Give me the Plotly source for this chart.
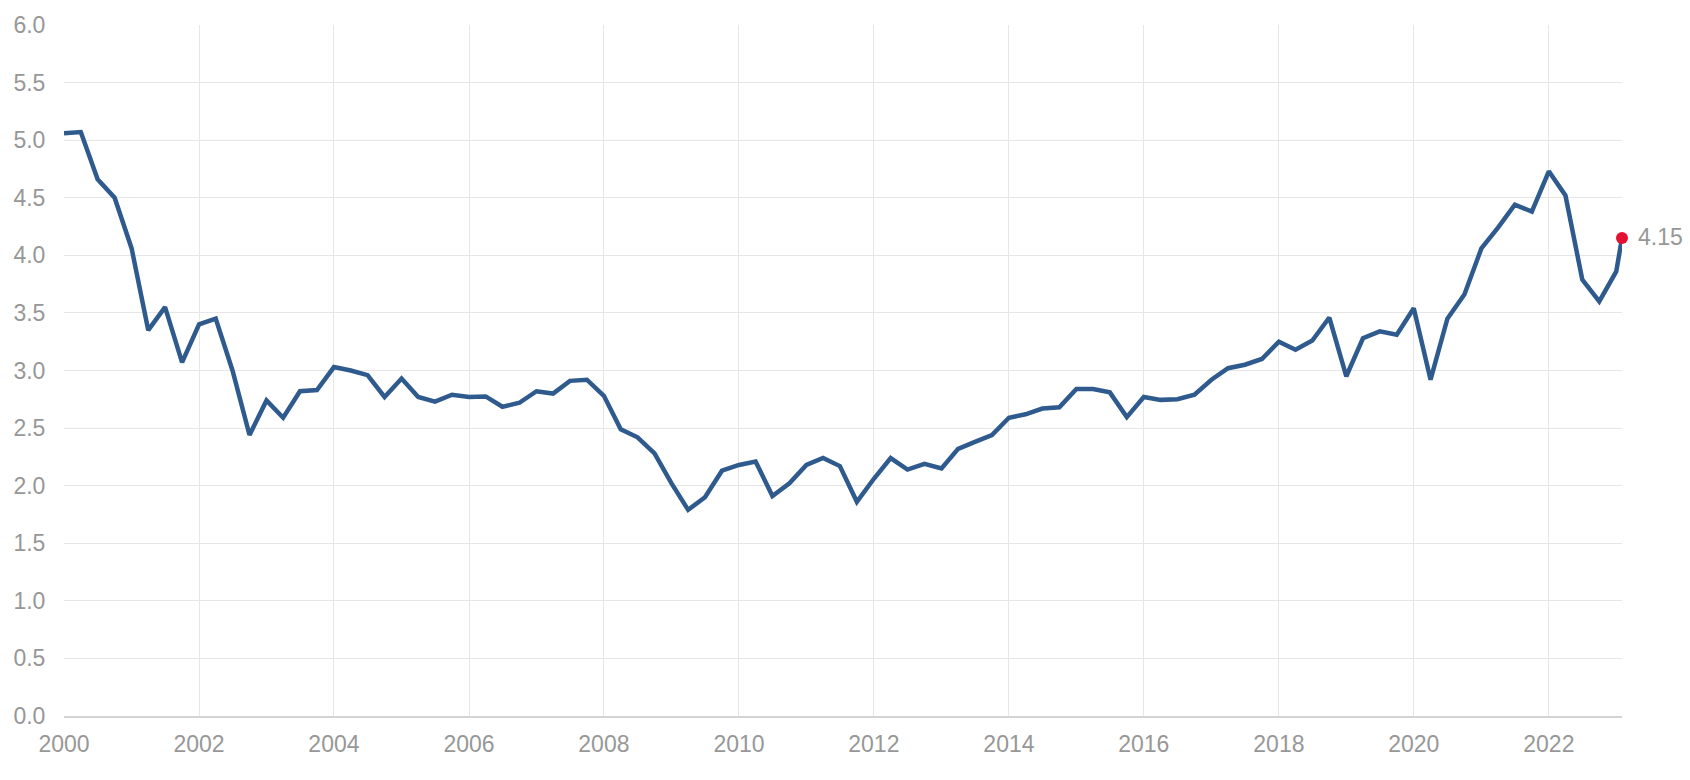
import pandas as pd
import plotly.graph_objects as go

# Quarterly dates 2000 Q1 .. 2023 Q1, plus latest monthly reading
quarter_dates = list(pd.date_range("2000-01-01", "2023-01-01", freq="QS").strftime("%Y-%m-%d"))
latest_date = "2023-02-01"
dates = quarter_dates + [latest_date]

values = [
    5.06, 5.07, 4.66, 4.50,   # 2000
    4.06, 3.35, 3.55, 3.07,   # 2001
    3.40, 3.45, 3.00, 2.44,   # 2002
    2.74, 2.59, 2.82, 2.83,   # 2003
    3.03, 3.00, 2.96, 2.77,   # 2004
    2.93, 2.77, 2.73, 2.79,   # 2005
    2.77, 2.775, 2.685, 2.72, # 2006
    2.82, 2.80, 2.91, 2.92,   # 2007
    2.78, 2.49, 2.42, 2.28,   # 2008
    2.02, 1.79, 1.90, 2.13,   # 2009
    2.18, 2.21, 1.91, 2.02,   # 2010
    2.18, 2.24, 2.17, 1.86,   # 2011
    2.06, 2.24, 2.14, 2.19,   # 2012
    2.15, 2.32, 2.38, 2.44,   # 2013
    2.59, 2.62, 2.67, 2.68,   # 2014
    2.84, 2.84, 2.81, 2.595,  # 2015
    2.77, 2.745, 2.75, 2.79,  # 2016
    2.92, 3.02, 3.05, 3.10,   # 2017
    3.25, 3.18, 3.26, 3.46,   # 2018
    2.95, 3.28, 3.34, 3.31,   # 2019
    3.54, 2.92, 3.45, 3.66,   # 2020
    4.06, 4.24, 4.44, 4.38,   # 2021
    4.73, 4.52, 3.79, 3.60,   # 2022
    3.86,                     # 2023 Q1
    4.15,                     # latest
]

y_ticks = [0.0, 0.5, 1.0, 1.5, 2.0, 2.5, 3.0, 3.5, 4.0, 4.5, 5.0, 5.5, 6.0]

LINE_COLOR = "#2f5a8d"
DOT_COLOR = "#e41130"
TEXT_COLOR = "#979797"
GRID_COLOR = "#e6e6e6"
FONT = "Liberation Sans, Arial, sans-serif"
FSIZE = 23

fig = go.Figure()
fig.add_trace(go.Scatter(
    x=dates, y=values, mode="lines",
    line=dict(color=LINE_COLOR, width=4.5),
    hoverinfo="x+y", showlegend=False,
))
fig.add_trace(go.Scatter(
    x=[dates[-1]], y=[values[-1]], mode="markers",
    marker=dict(color=DOT_COLOR, size=12),
    cliponaxis=False, showlegend=False,
))
fig.add_annotation(
    x=dates[-1], y=values[-1], text=f"{values[-1]:.2f}",
    showarrow=False, xanchor="left", yanchor="middle", xshift=14, yshift=1,
    font=dict(family=FONT, size=FSIZE, color=TEXT_COLOR),
)

fig.update_layout(
    width=1690, height=780,
    margin=dict(l=64, r=68, t=21, b=64),
    plot_bgcolor="white", paper_bgcolor="white",
    font=dict(family=FONT, size=FSIZE, color=TEXT_COLOR),
    xaxis=dict(
        type="date",
        range=["2000-01-01", latest_date],
        dtick="M24", tick0="2000-01-01", tickformat="%Y",
        showgrid=True, gridcolor=GRID_COLOR, gridwidth=1,
        showline=True, linecolor="#d3d3d3", linewidth=2,
        ticks="outside", ticklen=6, tickcolor="rgba(0,0,0,0)",
        zeroline=False, tickfont=dict(size=FSIZE, color=TEXT_COLOR),
    ),
    yaxis=dict(
        range=[0, 6], tickvals=y_ticks,
        ticktext=[f"{v:.1f}" for v in y_ticks],
        showgrid=True, gridcolor=GRID_COLOR, gridwidth=1,
        showline=False, zeroline=False,
        ticks="outside", ticklen=13, tickcolor="rgba(0,0,0,0)",
        tickfont=dict(size=FSIZE, color=TEXT_COLOR),
    ),
)

fig.write_html("out.html")
